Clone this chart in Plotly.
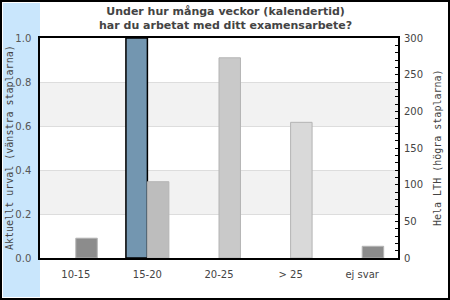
import plotly.graph_objects as go

categories = ["10-15", "15-20", "20-25", "> 25", "ej svar"]
urval_values = [0, 1.0, 0, 0, 0]
lth_values = [27, 104, 273, 185, 16]
lth_colors = ["#8c8c8c", "#bdbdbd", "#c9c9c9", "#d9d9d9", "#8c8c8c"]
left_ticks = [0.0, 0.2, 0.4, 0.6, 0.8, 1.0]
right_ticks = [0, 50, 100, 150, 200, 250, 300]

title_text = "Under hur många veckor (kalendertid)<br>har du arbetat med ditt examensarbete?"
left_title = "Aktuellt urval (vänstra staplarna)"
right_title = "Hela LTH (högra staplarna)"

W, H = 450, 300
L, R, T, B = 40, 52, 38, 42
pw, ph = W - L - R, H - T - B

def px_x(p):
    return (p - L) / pw

def px_y(p):
    return (H - B - p) / ph

fig = go.Figure()
fig.add_trace(go.Bar(
    x=categories, y=urval_values, yaxis="y", offsetgroup="1",
    marker=dict(color="#7396b0",
                line=dict(color="#000000", width=[1.5 if v > 0 else 0 for v in urval_values])),
    name="Aktuellt urval",
))
fig.add_trace(go.Bar(
    x=categories, y=lth_values, yaxis="y2", offsetgroup="2",
    marker=dict(color=lth_colors, line=dict(color="#b4b4b4", width=1)),
    name="Hela LTH",
))

shapes = [
    dict(type="rect", xref="paper", yref="paper", x0=px_x(3), x1=px_x(40),
         y0=px_y(297), y1=px_y(3), fillcolor="#c9e6fc", line=dict(width=0), layer="below"),
    dict(type="rect", xref="paper", yref="paper", x0=px_x(1), x1=px_x(449),
         y0=px_y(299), y1=px_y(1), line=dict(color="#000000", width=2), layer="above"),
]
for y0, y1 in [(0.2, 0.4), (0.6, 0.8)]:
    shapes.append(dict(type="rect", xref="paper", yref="y", x0=0, x1=1, y0=y0, y1=y1,
                       fillcolor="#f2f2f2", line=dict(width=0), layer="below"))

fig.update_layout(
    width=W, height=H,
    margin=dict(l=L, r=R, t=T, b=B),
    paper_bgcolor="#ffffff", plot_bgcolor="#ffffff",
    showlegend=False,
    barmode="group", bargap=0.4, bargroupgap=0,
    font=dict(family="DejaVu Sans", size=10, color="#555555"),
    xaxis=dict(showline=True, linecolor="#000000", linewidth=1.5, mirror=True,
               ticks="", showgrid=False, tickfont=dict(size=10, color="#444444"),
               ticklabelstandoff=6),
    yaxis=dict(range=[0, 1], tickvals=left_ticks, tickformat=".1f",
               showline=True, linecolor="#000000", linewidth=1.5, mirror=True,
               ticks="", showgrid=True, gridcolor="#dddddd", gridwidth=1,
               zeroline=False, tickfont=dict(size=10, color="#555555"),
               ticklabelstandoff=5),
    yaxis2=dict(range=[0, 300], tickvals=right_ticks, overlaying="y", side="right",
                showgrid=False, zeroline=False, showline=False,
                ticks="inside", ticklen=3, tickcolor="#000000", tickwidth=1,
                minor=dict(dtick=10, ticks="inside", ticklen=3, tickcolor="#000000", tickwidth=1),
                tickfont=dict(size=10, color="#444444"), ticklabelstandoff=5),
    shapes=shapes,
    annotations=[
        dict(text="<b>" + title_text.replace("<br>", "</b><br><b>") + "</b>",
             xref="paper", yref="paper", x=px_x(225), y=px_y(4),
             xanchor="center", yanchor="top", showarrow=False, borderpad=0,
             font=dict(family="DejaVu Sans", size=11, color="#444444")),
        dict(text=left_title, xref="paper", yref="paper", x=px_x(9), y=0.5,
             xanchor="center", yanchor="middle", textangle=-90, showarrow=False,
             font=dict(family="DejaVu Sans Mono", size=10, color="#444444")),
        dict(text=right_title, xref="paper", yref="paper", x=px_x(437), y=0.5,
             xanchor="center", yanchor="middle", textangle=-90, showarrow=False,
             font=dict(family="DejaVu Sans Mono", size=10, color="#444444")),
    ],
)

fig.write_html("out.html")
